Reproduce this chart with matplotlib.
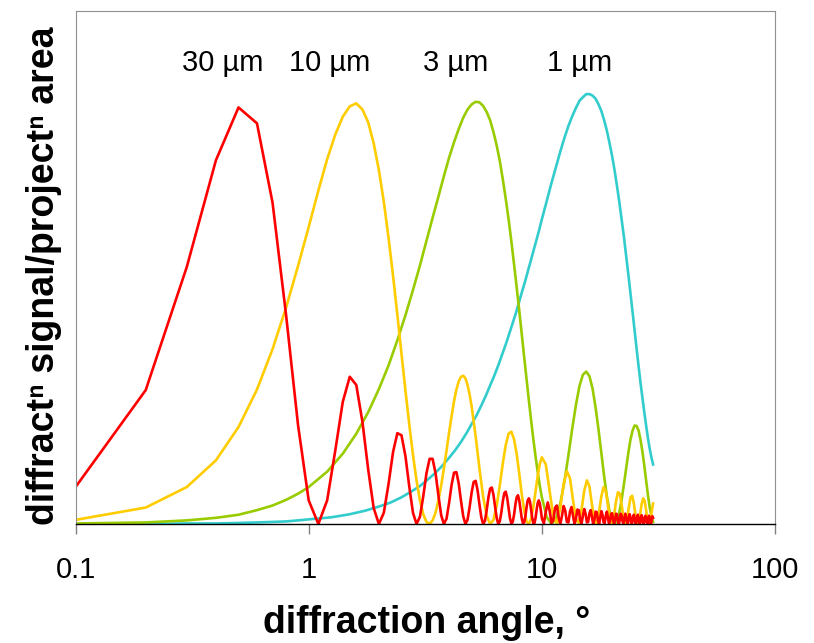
import matplotlib
matplotlib.use('Agg')
import matplotlib.pyplot as plt
from matplotlib.ticker import NullLocator
import numpy as np

plt.rcParams['font.family'] = ['Liberation Sans', 'DejaVu Sans']

# sample angles (deg): 0.1 deg steps where the picture shows the kinks,
# coarser steps where a curve is smooth at this scale
red_angle = np.concatenate([np.round(np.arange(1, 101) * 0.1, 1),
                            np.round(10 + np.arange(1, 101) * 0.2, 1)])
yellow_angle = np.concatenate([np.round(np.arange(1, 51) * 0.1, 1),
                               np.round(5 + np.arange(1, 26) * 0.2, 1),
                               np.round(10 + np.arange(1, 51) * 0.4, 1)])
green_angle = np.concatenate([np.round(np.arange(1, 11) * 0.1, 1),
                              np.round(1 + np.arange(1, 46) * 0.2, 1),
                              np.round(10 + np.arange(1, 41) * 0.5, 1)])
cyan_angle = np.concatenate([np.round(np.arange(1, 11) * 0.1, 1),
                             np.round(1 + np.arange(1, 37) * 0.25, 2),
                             np.round(10 + np.arange(1, 41) * 0.5, 1)])

# signal per projected area (arbitrary units, axis top = 100)
red_signal = [
    7.2, 26.1, 50.1, 70.9, 81.2, 78.1, 62.6, 40.7, 19.3, 4.6,
    0.0, 4.6, 14.3, 23.8, 28.7, 27.1, 19.9, 10.6, 3.1, 0.0,
    2.2, 7.8, 14.0, 17.7, 17.3, 13.2, 7.3, 2.2, 0.0, 1.4,
    5.4, 9.9, 12.7, 12.7, 9.9, 5.6, 1.7, 0.0, 1.0, 4.1,
    7.6, 10.0, 10.1, 7.9, 4.5, 1.5, 0.0, 0.8, 3.3, 6.2,
    8.2, 8.4, 6.6, 3.8, 1.3, 0.0, 0.6, 2.7, 5.2, 6.9,
    7.1, 5.7, 3.4, 1.2, 0.0, 0.5, 2.2, 4.4, 6.0, 6.3,
    5.1, 3.1, 1.1, 0.1, 0.4, 1.8, 3.8, 5.2, 5.6, 4.6,
    2.9, 1.1, 0.1, 0.3, 1.5, 3.3, 4.6, 5.0, 4.3, 2.7,
    1.1, 0.1, 0.2, 1.2, 2.8, 4.1, 4.6, 4.0, 2.7, 1.1,
    0.1, 2.4, 4.2, 2.6, 0.2, 0.7, 3.2, 3.6, 1.3, 0.0,
    1.6, 3.5, 2.6, 0.4, 0.3, 2.4, 3.3, 1.6, 0.0, 1.0,
    2.8, 2.7, 0.8, 0.1, 1.6, 2.9, 2.0, 0.3, 0.4, 2.1,
    2.7, 1.3, 0.0, 0.8, 2.4, 2.3, 0.7, 0.0, 1.3, 2.5,
    1.8, 0.3, 0.2, 1.6, 2.4, 1.3, 0.1, 0.5, 1.9, 2.1,
    0.9, 0.0, 0.7, 2.0, 1.9, 0.6, 0.0, 0.9, 2.0, 1.6,
    0.4, 0.1, 1.1, 2.0, 1.4, 0.3, 0.1, 1.2, 1.9, 1.3,
    0.2, 0.2, 1.2, 1.8, 1.1, 0.1, 0.2, 1.2, 1.8, 1.1,
    0.1, 0.2, 1.2, 1.7, 1.1, 0.1, 0.2, 1.1, 1.6, 1.1,
    0.2, 0.1, 1.0, 1.6, 1.1, 0.2, 0.1, 0.8, 1.5, 1.2]

yellow_signal = [
    0.8, 3.2, 7.2, 12.4, 18.9, 26.2, 34.1, 42.2, 50.3, 57.9,
    65.0, 71.1, 75.9, 79.4, 81.4, 82.0, 80.8, 78.3, 74.2, 69.0,
    62.8, 55.8, 48.4, 40.8, 33.2, 26.0, 19.4, 13.5, 8.5, 4.6,
    1.9, 0.4, 0.0, 0.7, 2.2, 4.6, 7.5, 10.8, 14.3, 17.8,
    21.0, 23.9, 26.2, 27.8, 28.7, 28.9, 28.4, 27.1, 25.2, 22.9,
    17.1, 10.8, 5.3, 1.6, 0.0, 0.8, 3.6, 7.5, 11.8, 15.4,
    17.6, 18.0, 16.5, 13.6, 9.8, 5.8, 2.6, 0.5, 0.0, 1.1,
    3.4, 6.4, 9.4, 11.7, 13.0,
    11.6, 6.4, 1.4, 0.1, 3.2, 7.8, 10.3, 8.9, 4.7, 0.9,
    0.2, 2.8, 6.5, 8.5, 7.3, 3.8, 0.8, 0.1, 2.3, 5.4,
    7.2, 6.4, 3.6, 0.8, 0.1, 1.6, 4.4, 6.2, 5.9, 3.7,
    1.1, 0.0, 0.9, 3.2, 5.2, 5.5, 4.0, 1.8, 0.2, 0.3,
    1.9, 3.9, 5.0, 4.5, 2.7, 0.8, 0.0, 0.7, 2.5, 4.0]

green_signal = [
    0.1, 0.3, 0.7, 1.2, 1.8, 2.7, 3.6, 4.7, 5.9, 7.2,
    10.2, 13.7, 17.6, 21.8, 26.3, 30.9, 35.8, 40.7, 45.6, 50.4,
    55.2, 59.7, 63.8, 67.8, 71.4, 74.4, 77.0, 79.2, 80.8, 81.8,
    82.3, 82.2, 81.5, 80.3, 78.7, 76.4, 73.8, 70.8, 67.2, 63.4,
    59.4, 55.1, 50.6, 46.1, 41.6, 37.0, 32.5, 28.2, 24.0, 20.1,
    16.4, 13.1, 10.1, 7.4, 5.2,
    1.3, 0.0, 1.0, 4.0, 8.3, 13.4, 18.6, 23.2, 26.9, 29.1,
    29.7, 28.8, 26.4, 22.7, 18.4, 13.8, 9.3, 5.4, 2.5, 0.6,
    0.0, 0.6, 2.3, 4.8, 7.8, 10.9, 13.9, 16.5, 18.2, 19.2,
    19.1, 18.2, 16.4, 14.1, 11.4, 8.5, 5.7, 3.3, 1.5, 0.4]

cyan_signal = [
    0.0, 0.0, 0.1, 0.1, 0.2, 0.3, 0.4, 0.5, 0.7, 0.9,
    1.3, 1.9, 2.6, 3.4, 4.2, 5.2, 6.3, 7.4, 8.7, 10.0,
    11.4, 12.9, 14.4, 16.0, 17.7, 19.5, 21.2, 23.1, 25.0, 27.0,
    28.9, 30.9, 33.0, 35.0, 37.1, 39.2, 41.2, 43.4, 45.5, 47.5,
    49.6, 51.6, 53.6, 55.5, 57.4, 59.4,
    63.0, 66.5, 69.6, 72.6, 75.3, 77.6, 79.5, 81.1, 82.5, 83.2,
    83.8, 83.8, 83.5, 82.9, 81.8, 80.5, 78.7, 76.7, 74.3, 71.8,
    69.0, 65.9, 62.7, 59.3, 55.9, 52.2, 48.6, 44.9, 41.3, 37.7,
    34.1, 30.7, 27.5, 24.6, 21.8, 19.2, 16.8, 14.7, 13.0, 11.6]

sizes = ['30 µm', '10 µm', '3 µm', '1 µm']
size_label_x = [0.428, 1.229, 4.256, 14.46]

fig = plt.figure(figsize=(8.14, 6.43), dpi=100)
ax = fig.add_axes([0.0928, 0.1851, 0.8593, 0.7978])

lw = 1.9
ax.plot(cyan_angle, cyan_signal, color='#33CCCC', lw=lw)
ax.plot(green_angle, green_signal, color='#99CC00', lw=lw)
ax.plot(yellow_angle, yellow_signal, color='#FFCC00', lw=lw)
ax.plot(red_angle, red_signal, color='#FF0000', lw=lw)

for lab, xl in zip(sizes, size_label_x):
    ax.text(xl, 88.3, lab, ha='center', va='baseline', fontsize=21)

ax.set_xscale('log')
ax.set_xlim(0.1, 100)
ax.set_ylim(0, 100)
ax.set_xticks([0.1, 1, 10, 100])
ax.set_xticklabels(['0.1', '1', '10', '100'])
ax.xaxis.set_minor_locator(NullLocator())
ax.set_yticks([])
ax.tick_params(axis='x', direction='out', length=7, width=1, color='#808080',
               pad=16, labelsize=21)
for s in ['left', 'top', 'right']:
    ax.spines[s].set_color('#909090')
    ax.spines[s].set_linewidth(0.8)
ax.spines['bottom'].set_color('black')
ax.spines['bottom'].set_linewidth(1.0)

fig.text(0.524, 0.0156, 'diffraction angle, °', ha='center', va='baseline',
         fontsize=27, fontweight='bold')
fig.text(0.054, 0.5708, 'diffractⁿ signal/projectⁿ area', ha='center',
         va='center', rotation=90, fontsize=27, fontweight='bold')

fig.savefig('out.png', dpi=100)
